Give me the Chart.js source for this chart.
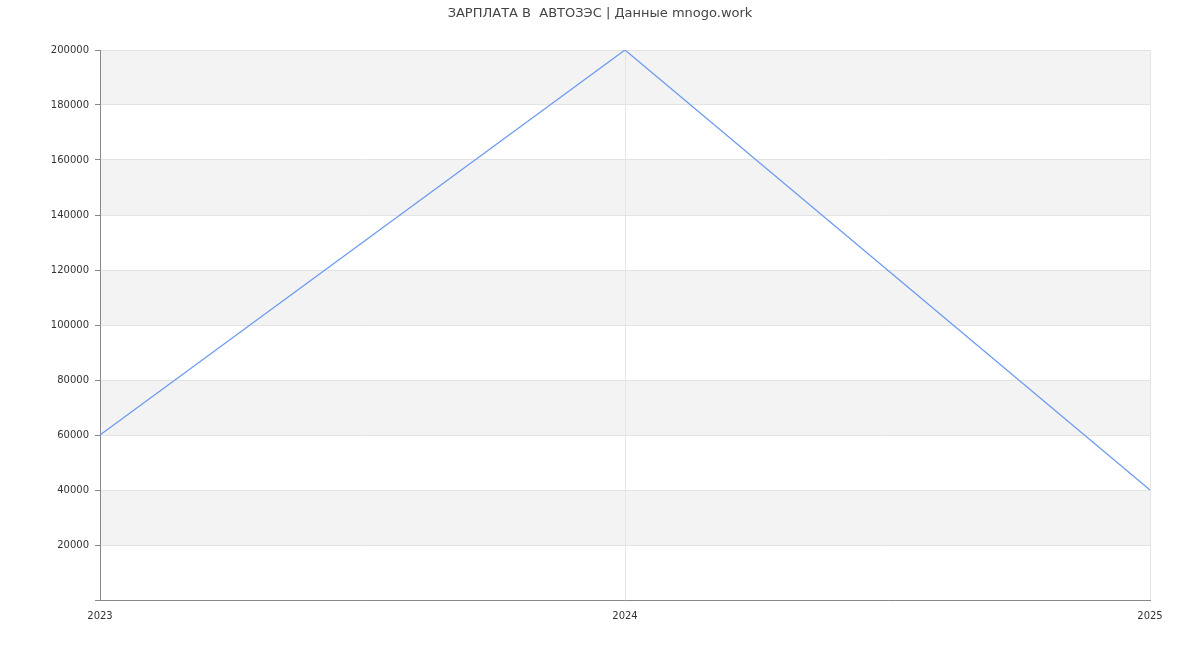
<!DOCTYPE html>
<html>
<head>
<meta charset="utf-8">
<script src="https://cdn.jsdelivr.net/npm/chart.js@4"></script>
<style>
  html, body { margin: 0; padding: 0; background: #fff; }
  #wrap { width: 1200px; height: 650px; }
</style>
</head>
<body>
<div id="wrap"><canvas id="grafico" width="1200" height="650"></canvas></div>
<script>
// dados do gráfico
var years = ['2023', '2024', '2025'];
var salary = [60000, 200000, 40000];
var yMin = 0, yMax = 200000, yStep = 20000;
var chartTitle = 'ЗАРПЛАТА В  АВТОЗЭС | Данные mnogo.work';

// faixas cinzas alternadas atrás do gráfico
var bandsPlugin = {
    id: 'bands',
    beforeDraw: function (chart) {
        var ctx = chart.ctx, area = chart.chartArea, y = chart.scales.y;
        ctx.save();
        ctx.fillStyle = '#f3f3f3';
        for (var i = 1; i < y.ticks.length - 1; i += 2) {
            var top = y.getPixelForValue(y.ticks[i + 1].value);
            var bot = y.getPixelForValue(y.ticks[i].value);
            ctx.fillRect(area.left, top, area.right - area.left, bot - top);
        }
        ctx.restore();
    }
};

Chart.defaults.font.family = 'DejaVu Sans';

var ctx = document.querySelector('#grafico');
new Chart(ctx, {
    type: 'line',
    data: {
        labels: years,
        datasets: [{
            data: salary,
            borderColor: '#6d9cf0',
            borderWidth: 1.3,
            pointRadius: 0,
            tension: 0,
            fill: false
        }]
    },
    options: {
        responsive: false,
        animation: false,
        layout: { padding: 0 },
        plugins: {
            legend: { display: false },
            tooltip: { enabled: false },
            title: {
                display: true,
                text: chartTitle,
                color: '#444',
                font: { size: 13, weight: 'normal' },
                padding: { top: 6, bottom: 28.4 }
            }
        },
        scales: {
            x: {
                offset: false,
                border: { color: '#888' },
                grid: { color: '#e6e6e6', drawTicks: false },
                ticks: { color: '#333', font: { size: 10 }, padding: 10, maxRotation: 0 },
                afterFit: function (s) { s.height = 50; }
            },
            y: {
                min: yMin,
                max: yMax,
                border: { color: '#888' },
                grid: { color: '#e3e3e3', tickLength: 5, tickColor: '#888' },
                ticks: {
                    stepSize: yStep,
                    color: '#333',
                    font: { size: 10 },
                    padding: 6,
                    callback: function (v) { return v === 0 ? '' : v; }
                },
                afterFit: function (s) { s.width = 100; }
            },
            // espaço vazio à direita
            yRight: {
                position: 'right',
                display: true,
                grid: { display: false },
                border: { display: false },
                ticks: { display: false },
                afterFit: function (s) { s.width = 50; }
            }
        }
    },
    plugins: [bandsPlugin]
});
</script>
</body>
</html>
